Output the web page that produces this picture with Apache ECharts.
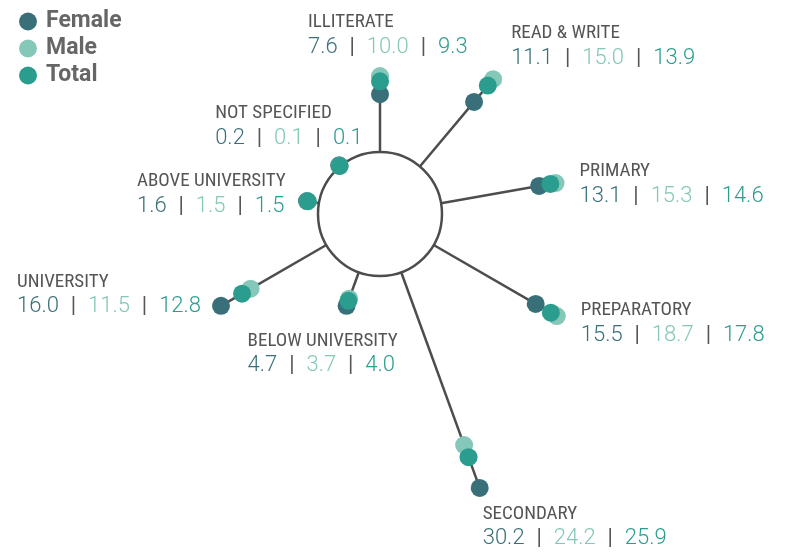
<!DOCTYPE html>
<html>
<head>
<meta charset="utf-8">
<script src="https://cdn.jsdelivr.net/npm/echarts@6/dist/echarts.min.js"></script>
<style>html,body{margin:0;padding:0;background:#fff}#chart{width:786px;height:556px}</style>
</head>
<body>
<div id="chart"></div>
<script>
// education levels, clockwise from the top
const levels = ['ILLITERATE', 'READ & WRITE', 'PRIMARY', 'PREPARATORY', 'SECONDARY',
  'BELOW UNIVERSITY', 'UNIVERSITY', 'ABOVE UNIVERSITY', 'NOT SPECIFIED'];
const female = [7.6, 11.1, 13.1, 15.5, 30.2, 4.7, 16.0, 1.6, 0.2];
const male = [10.0, 15.0, 15.3, 18.7, 24.2, 3.7, 11.5, 1.5, 0.1];
const total = [9.3, 13.9, 14.6, 17.8, 25.9, 4.0, 12.8, 1.5, 0.1];

const cFemale = '#386f78';
const cMale = '#85c7b8';
const cTotal = '#2b9d8f';
const cLine = '#4d4d4d';

// top-left corner of each label, relative to the end of its spoke
const labelOffset = [[-72, -62], [18, -54], [24, -20], [24, -14], [3, 18],
  [-99, 27], [-204, -32], [-170, -28], [-124, -60]];

const condensed = '"Roboto Condensed", "Liberation Sans Narrow", "DejaVu Sans Condensed", Roboto, sans-serif';
const fmt = v => v.toFixed(1);
const spokeEnd = levels.map((_, i) => Math.max(female[i], male[i], total[i]));

const num = c => ({ fontFamily: 'Roboto', fontWeight: 300, fontSize: 22, fill: c, lineHeight: 26 });

const chart = echarts.init(document.getElementById('chart'));
chart.setOption({
  animation: false,
  legend: {
    orient: 'vertical', left: 14, top: 5, itemWidth: 18, itemHeight: 18, itemGap: 4,
    icon: 'circle', data: ['Female', 'Male', 'Total'],
    textStyle: { fontFamily: 'Roboto', fontSize: 23, fontWeight: 'bold', color: '#666', padding: [0, 0, 0, 4] }
  },
  polar: { center: [380, 214], radius: [62, 62 + 7.6 * 35] },
  angleAxis: { type: 'category', data: levels, boundaryGap: false, startAngle: 90, clockwise: true, show: false },
  radiusAxis: { type: 'value', min: 0, max: 35, show: false },
  graphic: [{
    type: 'circle', shape: { cx: 380, cy: 214, r: 62 },
    style: { fill: '#fff', stroke: cLine, lineWidth: 2.5 }
  }],
  series: [
    {
      type: 'custom', coordinateSystem: 'polar', z: 1, silent: true,
      data: spokeEnd.map((v, i) => [v, i]),
      renderItem(params, api) {
        const i = params.dataIndex;
        const a = api.coord([0, i]);
        const b = api.coord([api.value(0), i]);
        const off = labelOffset[i];
        return {
          type: 'group',
          children: [
            { type: 'line', shape: { x1: a[0], y1: a[1], x2: b[0], y2: b[1] }, style: { stroke: cLine, lineWidth: 2.5 } },
            {
              type: 'text', x: b[0] + off[0], y: b[1] + off[1] - 4,
              style: {
                text: '{c|' + levels[i] + '}\n{f|' + fmt(female[i]) + '}{s|  |  }{m|' + fmt(male[i]) +
                  '}{s|  |  }{t|' + fmt(total[i]) + '}',
                align: 'left', verticalAlign: 'top',
                rich: {
                  c: { fontFamily: condensed, fontSize: 19, fill: '#555', lineHeight: 24 },
                  f: num(cFemale),
                  m: num(cMale),
                  t: num(cTotal),
                  s: { fontFamily: 'Roboto', fontSize: 22, fill: '#555', lineHeight: 26, padding: [0, 1] }
                }
              }
            }
          ]
        };
      }
    },
    { name: 'Female', type: 'scatter', coordinateSystem: 'polar', symbolSize: 18, itemStyle: { color: cFemale, opacity: 1 }, data: female.map((v, i) => [v, i]) },
    { name: 'Male', type: 'scatter', coordinateSystem: 'polar', symbolSize: 18, itemStyle: { color: cMale, opacity: 1 }, data: male.map((v, i) => [v, i]) },
    { name: 'Total', type: 'scatter', coordinateSystem: 'polar', symbolSize: 18, itemStyle: { color: cTotal, opacity: 1 }, data: total.map((v, i) => [v, i]) }
  ]
});
</script>
</body>
</html>
